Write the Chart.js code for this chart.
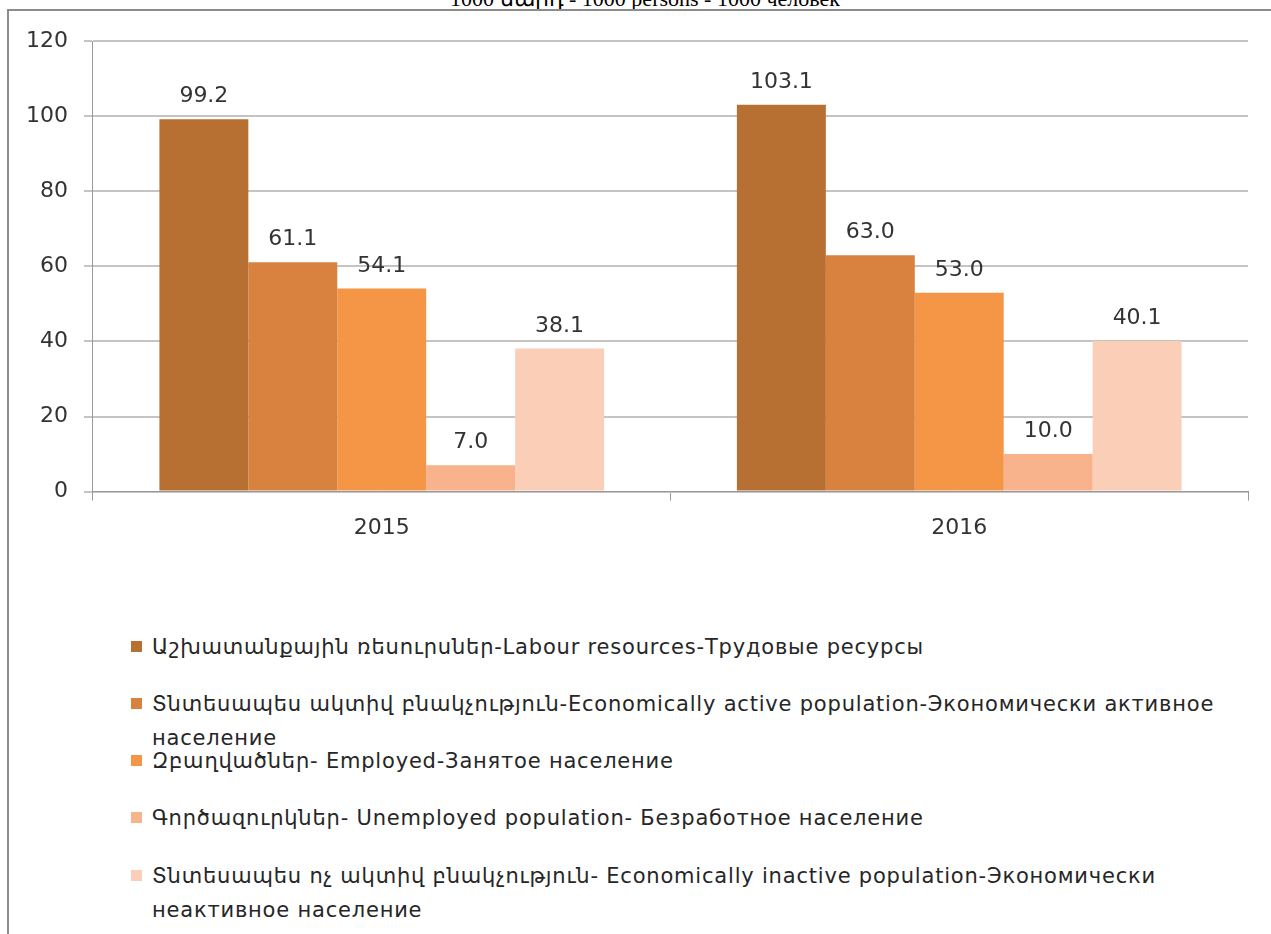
<!DOCTYPE html>
<html>
<head>
<meta charset="utf-8">
<script src="https://cdn.jsdelivr.net/npm/chart.js@4.4.0/dist/chart.umd.min.js"></script>
<style>
  html, body { margin: 0; padding: 0; background: #fff; }
  body { width: 1271px; height: 934px; position: relative; overflow: hidden; }
  #unit { position: absolute; top: -14px; left: 0; width: 1290px; text-align: center;
          font-family: "Liberation Serif", serif; font-size: 22px; color: #000; }
  #frame { position: absolute; left: 7px; top: 9px; width: 1300px; height: 1000px;
           border-left: 2px solid #8c8c8c; border-top: 2px solid #8c8c8c; }
  #chart-wrap { position: absolute; left: 10px; top: 12px; width: 1261px; height: 543px; }
  #legend { position: absolute; left: 131px; top: 630px; width: 1090px;
            font-family: "DejaVu Sans", sans-serif;
            font-size: 21px; letter-spacing: 0.8px; color: #262626; }
  .leg-item { position: absolute; left: 0; width: 1090px; line-height: 34px; }
  .leg-box { position: absolute; left: 0; top: 11px; width: 11px; height: 11px; }
  .leg-text { margin-left: 21px; display: block; }
</style>
</head>
<body>
<div id="unit">1000 մարդ - 1000 persons - 1000 человек</div>
<div id="frame"></div>
<div id="chart-wrap"><canvas id="chart"></canvas></div>
<div id="legend"></div>
<script>
// ---------- Data ----------
const years = ['2015', '2016'];
const seriesNames = [
  'Աշխատանքային ռեսուրսներ-Labour resources-Трудовые ресурсы',
  'Տնտեսապես ակտիվ բնակչություն-Economically active population-Экономически активное население',
  'Զբաղվածներ- Employed-Занятое население',
  ' Գործազուրկներ- Unemployed population- Безработное население',
  'Տնտեսապես ոչ ակտիվ բնակչություն- Economically inactive population-Экономически неактивное население'
];
const labourResources = [99.2, 103.1];
const activePopulation = [61.1, 63.0];
const employed = [54.1, 53.0];
const unemployed = [7.0, 10.0];
const inactivePopulation = [38.1, 40.1];
const seriesColors = ['#B86F32', '#D9823F', '#F59646', '#F8B38D', '#FACEB7'];
const yTicks = [0, 20, 40, 60, 80, 100, 120];
const legendTops = [0, 57, 114, 171, 229];

const labelFont = '"DejaVu Sans", sans-serif';

// ---------- Data labels plugin ----------
const valueLabels = {
  id: 'valueLabels',
  afterDatasetsDraw(chart) {
    const ctx = chart.ctx;
    ctx.save();
    ctx.font = '22px ' + labelFont;
    ctx.fillStyle = '#333';
    ctx.textAlign = 'center';
    ctx.textBaseline = 'alphabetic';
    chart.data.datasets.forEach((ds, i) => {
      chart.getDatasetMeta(i).data.forEach((bar, j) => {
        ctx.fillText(ds.data[j].toFixed(1), bar.x, bar.y - 17);
      });
    });
    ctx.restore();
  }
};

const allSeries = [labourResources, activePopulation, employed, unemployed, inactivePopulation];

const chart = new Chart(document.getElementById('chart'), {
  type: 'bar',
  data: {
    labels: years,
    datasets: allSeries.map((vals, i) => ({
      label: seriesNames[i],
      data: vals,
      backgroundColor: seriesColors[i],
      borderWidth: 0,
      categoryPercentage: 0.77,
      barPercentage: 1.0
    }))
  },
  options: {
    responsive: true,
    maintainAspectRatio: false,
    animation: false,
    layout: { padding: { top: 19, right: 23, left: 0, bottom: 0 } },
    plugins: { legend: { display: false }, tooltip: { enabled: false } },
    scales: {
      x: {
        grid: { offset: true, drawOnChartArea: false, tickLength: 9, color: '#999', lineWidth: 1 },
        border: { color: '#999', width: 1 },
        ticks: { color: '#333', padding: 14, font: { size: 22, family: labelFont } }
      },
      y: {
        min: 0,
        max: 120,
        afterBuildTicks: (axis) => { axis.ticks = yTicks.map(v => ({ value: v })); },
        grid: { color: '#c4c4c4', lineWidth: 2, tickLength: 9 },
        border: { color: '#999', width: 1 },
        ticks: { color: '#333', padding: 16, font: { size: 22, family: labelFont } }
      }
    }
  },
  plugins: [valueLabels]
});

// ---------- HTML legend ----------
const legendEl = document.getElementById('legend');
chart.data.datasets.forEach((ds, i) => {
  const item = document.createElement('div');
  item.className = 'leg-item';
  item.style.top = legendTops[i] + 'px';
  item.innerHTML = '<span class="leg-box" style="background:' + ds.backgroundColor + '"></span>' +
    '<span class="leg-text">' + ds.label + '</span>';
  legendEl.appendChild(item);
});
</script>
</body>
</html>
